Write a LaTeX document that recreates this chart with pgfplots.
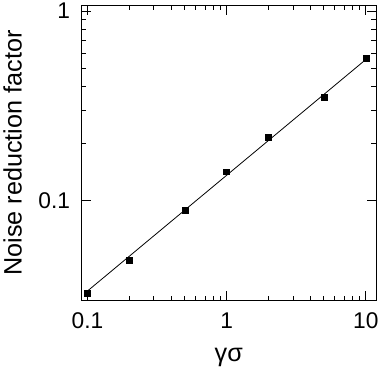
\documentclass[border=0pt]{standalone}
\usepackage{fontspec}
\setmainfont{Liberation Sans}
\usepackage{pgfplots}
\pgfplotsset{compat=1.18}
\newcommand{\tickfont}{\fontsize{23}{26}\selectfont}
\newcommand{\labfont}{\fontsize{25.5}{28}\selectfont}

\begin{document}
\begin{tikzpicture}
\begin{axis}[
  xmode=log, ymode=log,
  scale only axis,
  width=297bp, height=298bp,
  xmin=0.0906, xmax=11.85,
  ymin=0.0296, ymax=1.075,
  xtick={0.1,1,10}, xticklabels={0.1,1,10},
  ytick={0.1,1}, yticklabels={0.1,1},
  tick align=inside,
  major tick length=9.5bp, minor tick length=5bp,
  every tick/.style={black, line width=0.9bp},
  axis line style={line width=1.1bp},
  /pgf/number format/assume math mode=true,
  xticklabel style={font=\tickfont, yshift=-9bp},
  yticklabel style={font=\tickfont, xshift=-8bp},
  xlabel={γσ},
  ylabel={Noise reduction factor},
  xlabel style={font=\labfont, yshift=-12bp},
  ylabel style={font=\labfont, yshift=10bp},
]
\addplot[black, line width=0.8bp] coordinates {(0.1,0.0333) (10,0.555)};
\addplot[only marks, mark=square*, mark size=3bp, black] coordinates {
  (0.1,0.0326) (0.2,0.0483) (0.5,0.0894) (1,0.142) (2,0.217) (5,0.352) (10,0.565)
};
\end{axis}
\path ([xshift=-79bp,yshift=-79bp]current axis.south west) rectangle ([xshift=6bp,yshift=5bp]current axis.north east);
\end{tikzpicture}
\end{document}
